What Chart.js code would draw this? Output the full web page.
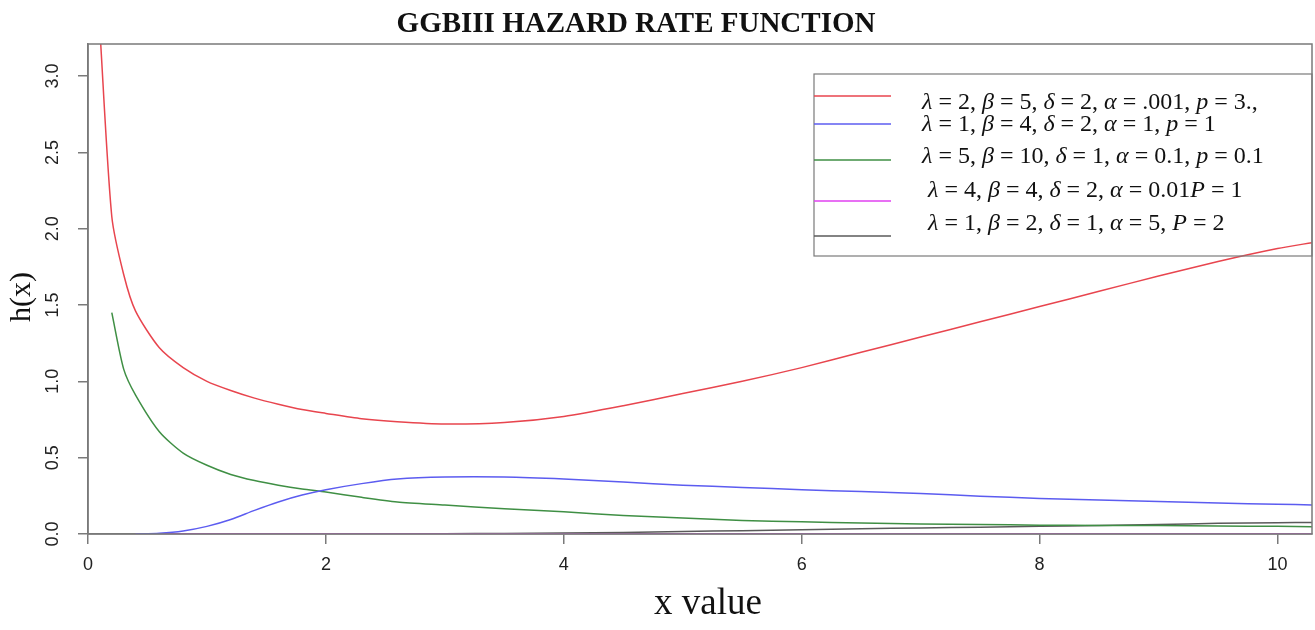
<!DOCTYPE html>
<html>
<head>
<meta charset="utf-8">
<title>GGBIII Hazard Rate Function</title>
<script src="https://cdn.jsdelivr.net/npm/chart.js@4.4.1/dist/chart.umd.min.js"></script>
<style>
html, body { margin: 0; padding: 0; background: #fff; }
#wrap { width: 1315px; height: 630px; }
</style>
</head>
<body>
<div id="wrap"><canvas id="hazard" width="1315" height="630"></canvas></div>
<script>
//values//
var xValues = [0.1, 0.2, 0.3, 0.4, 0.6, 0.8, 1.0, 1.2, 1.4, 1.6, 1.8, 2.0, 2.3, 2.6, 3.0, 3.5,
    4.0, 4.5, 5.0, 5.5, 6.0, 6.5, 7.0, 7.5, 8.0, 8.5, 9.0, 9.5, 10.0, 10.3];
var hRed = [3.3, 2.08, 1.70, 1.46, 1.22, 1.09, 1.00, 0.94, 0.89, 0.85, 0.815, 0.79, 0.755, 0.735, 0.72, 0.73,
    0.77, 0.84, 0.92, 1.00, 1.09, 1.19, 1.29, 1.39, 1.49, 1.59, 1.69, 1.785, 1.87, 1.91];
var hBlue = [null, null, null, 0.0, 0.005, 0.02, 0.05, 0.095, 0.155, 0.21, 0.255, 0.29, 0.33, 0.36, 0.373, 0.373,
    0.36, 0.34, 0.32, 0.305, 0.29, 0.278, 0.265, 0.248, 0.233, 0.222, 0.213, 0.203, 0.195, 0.19];
var hGreen = [null, 1.45, 1.08, 0.91, 0.67, 0.53, 0.45, 0.39, 0.35, 0.32, 0.295, 0.275, 0.24, 0.21, 0.19, 0.165,
    0.145, 0.122, 0.105, 0.088, 0.08, 0.072, 0.066, 0.062, 0.058, 0.056, 0.055, 0.052, 0.05, 0.048];
var hMagenta = [null, null, null, 0, 0, 0, 0, 0, 0, 0, 0, 0, 0, 0, 0, 0,
    0, 0, 0, 0, 0, 0, 0, 0, 0, 0, 0, 0, 0, 0];
var hGray = [null, null, null, 0, 0, 0, 0, 0, 0, 0, 0, 0, 0, 0, 0.002, 0.004,
    0.006, 0.01, 0.016, 0.022, 0.028, 0.034, 0.04, 0.045, 0.05, 0.056, 0.062, 0.07, 0.074, 0.075];

var seriesLabels = [
    'λ = 2, β = 5, δ = 2, α = .001, p = 3.,',
    'λ = 1, β = 4, δ = 2, α = 1, p = 1',
    'λ = 5, β = 10, δ = 1, α = 0.1, p = 0.1',
    'λ = 4, β = 4, δ = 2, α = 0.01P = 1',
    'λ = 1, β = 2, δ = 1, α = 5, P = 2'
];
var seriesValues = [hRed, hBlue, hGreen, hMagenta, hGray];
var seriesColors = ['#e8454e', '#5c5cf0', '#3f8f44', '#e040f0', '#5a5a5a'];
var xTicks = [0, 2, 4, 6, 8, 10];
var yTicks = [0, 0.5, 1.0, 1.5, 2.0, 2.5, 3.0];

var frameColor = '#7a7a7a';

//title, axis names, frame and legend//
var decor = {
    id: 'decor',
    afterDraw: function(chart) {
        var c = chart.ctx;
        var a = chart.chartArea;
        c.save();
        // box round the plot
        c.strokeStyle = frameColor;
        c.lineWidth = 1.5;
        c.strokeRect(a.left, a.top, a.right - a.left, a.bottom - a.top);

        c.fillStyle = '#111';
        c.textAlign = 'center';
        c.textBaseline = 'middle';
        c.font = 'bold 29px "Liberation Serif"';
        c.fillText('GGBIII HAZARD RATE FUNCTION', 636, 25);
        c.font = '37px "Liberation Serif"';
        c.fillText('x value', 708, 604);
        c.save();
        c.translate(22, 297);
        c.rotate(-Math.PI / 2);
        c.font = '30px "Liberation Serif"';
        c.fillText('h(x)', 0, 0);
        c.restore();

        // legend (no fill, the curves show through like in R)
        var lineY = [96, 124, 160, 201, 236];
        var textX = [922, 922, 922, 928, 928];
        var textY = [103, 125, 157, 191, 224];
        c.strokeStyle = frameColor;
        c.lineWidth = 1.2;
        c.strokeRect(814, 74, a.right - 814, 182);
        c.textAlign = 'left';
        for (var i = 0; i < seriesLabels.length; i++) {
            c.strokeStyle = seriesColors[i];
            c.lineWidth = 1.5;
            c.beginPath();
            c.moveTo(814, lineY[i]);
            c.lineTo(891, lineY[i]);
            c.stroke();
            drawMath(c, seriesLabels[i], textX[i], textY[i]);
        }
        c.restore();
    }
};

function drawMath(c, str, x, y) {
    c.fillStyle = '#111';
    var parts = str.split(/([λβδαpP])/);
    parts.forEach(function(p) {
        if (!p) return;
        c.font = (/^[λβδαpP]$/.test(p) ? 'italic ' : '') + '24px "Liberation Serif"';
        c.fillText(p, x, y);
        x += c.measureText(p).width;
    });
}

var ctx = document.getElementById('hazard').getContext('2d');
var hazardChart = new Chart(ctx, {
    type: 'line',
    data: {
        datasets: seriesValues.map(function(vals, i) {
            return {
                label: seriesLabels[i],
                data: xValues.map(function(x, j) { return { x: x, y: vals[j] }; }),
                borderColor: seriesColors[i],
                borderWidth: 1.5,
                pointRadius: 0,
                tension: 0.25,
                fill: false,
                spanGaps: false
            };
        })
    },
    options: {
        responsive: false,
        animation: false,
        layout: { padding: { top: 44, right: 3, left: 0, bottom: 0 } },
        plugins: {
            legend: { display: false },
            title: { display: false },
            tooltip: { enabled: false }
        },
        scales: {
            x: {
                type: 'linear',
                min: 0,
                max: 10.29,
                afterBuildTicks: function(s) { s.ticks = xTicks.map(function(v) { return { value: v }; }); },
                afterFit: function(s) { s.height = 96; },
                ticks: {
                    color: '#222',
                    font: { family: '"Liberation Sans"', size: 18 },
                    padding: 10,
                    maxRotation: 0,
                    includeBounds: false
                },
                grid: { drawOnChartArea: false, tickLength: 10, color: frameColor, lineWidth: 1.5 },
                border: { color: frameColor, width: 1.5 }
            },
            y: {
                min: 0,
                max: 3.21,
                afterBuildTicks: function(s) { s.ticks = yTicks.map(function(v) { return { value: v }; }); },
                afterFit: function(s) { s.width = 88; },
                ticks: {
                    color: '#222',
                    font: { family: '"Liberation Sans"', size: 18 },
                    minRotation: 90,
                    maxRotation: 90,
                    crossAlign: 'center',
                    padding: 12,
                    callback: function(v) { return v.toFixed(1); }
                },
                grid: { drawOnChartArea: false, tickLength: 10, color: frameColor, lineWidth: 1.5 },
                border: { color: frameColor, width: 1.5 }
            }
        }
    },
    plugins: [decor]
});
</script>
</body>
</html>
